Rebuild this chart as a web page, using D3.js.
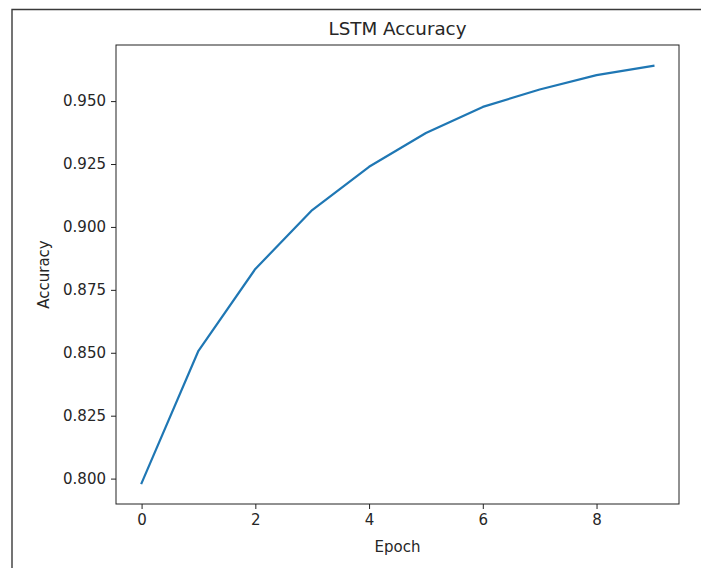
<!DOCTYPE html>
<meta charset="utf-8">
<script src="https://d3js.org/d3.v7.min.js"></script>
<style>
    body { margin: 0; background: #fff; }
    svg text { font-family: "DejaVu Sans", sans-serif; fill: #262626; }
</style>
<div id="chart"></div>
<script>
    // data
    var epochs = [0, 1, 2, 3, 4, 5, 6, 7, 8, 9];
    var accuracy = [0.7982, 0.8508, 0.8833, 0.9067, 0.9239, 0.9373, 0.9477, 0.9546, 0.9603, 0.9640];
    var xTicks = [0, 2, 4, 6, 8];
    var yTicks = [0.800, 0.825, 0.850, 0.875, 0.900, 0.925, 0.950];

    var W = 701, H = 568;
    var plot = { left: 116, top: 45, right: 679, bottom: 504 };

    var svg = d3.select("#chart").append("svg")
        .attr("width", W)
        .attr("height", H);

    // outer frame (top and left edge only show in the shot)
    svg.append("path")
        .attr("d", d3.line()([[12, H], [12, 9.5], [W, 9.5]]))
        .attr("fill", "none")
        .attr("stroke", "#3a3a3a")
        .attr("stroke-width", 1.4);

    // matplotlib style 5% margins
    var xPad = (d3.max(epochs) - d3.min(epochs)) * 0.05;
    var yPad = (d3.max(accuracy) - d3.min(accuracy)) * 0.05;

    var x = d3.scaleLinear()
        .domain([d3.min(epochs) - xPad, d3.max(epochs) + xPad])
        .range([plot.left, plot.right]);
    var y = d3.scaleLinear()
        .domain([d3.min(accuracy) - yPad, d3.max(accuracy) + yPad])
        .range([plot.bottom, plot.top]);

    var xAxis = svg.append("g")
        .attr("transform", "translate(0," + plot.bottom + ")")
        .call(d3.axisBottom(x).tickValues(xTicks).tickSize(5).tickPadding(5).tickFormat(d3.format("d")));
    var yAxis = svg.append("g")
        .attr("transform", "translate(" + plot.left + ",0)")
        .call(d3.axisLeft(y).tickValues(yTicks).tickSize(5).tickPadding(5).tickFormat(d3.format(".3f")));

    [xAxis, yAxis].forEach(function (g) {
        g.select(".domain").remove();
        g.selectAll("line").attr("stroke", "#222").attr("stroke-width", 1);
        g.selectAll("text").style("font-size", "15px").attr("fill", "#262626");
    });

    // spines
    svg.append("rect")
        .attr("x", plot.left)
        .attr("y", plot.top)
        .attr("width", plot.right - plot.left)
        .attr("height", plot.bottom - plot.top)
        .attr("fill", "none")
        .attr("stroke", "#222")
        .attr("stroke-width", 1);

    // accuracy line
    svg.append("path")
        .datum(epochs)
        .attr("fill", "none")
        .attr("stroke", "#1f77b4")
        .attr("stroke-width", 2.2)
        .attr("stroke-linejoin", "round")
        .attr("stroke-linecap", "square")
        .attr("d", d3.line()
            .x(function (d, i) { return x(d); })
            .y(function (d, i) { return y(accuracy[i]); }));

    // title and axis labels
    svg.append("text")
        .attr("x", (plot.left + plot.right) / 2)
        .attr("y", 35)
        .attr("text-anchor", "middle")
        .style("font-size", "18.3px")
        .text("LSTM Accuracy");

    svg.append("text")
        .attr("x", (plot.left + plot.right) / 2)
        .attr("y", 552)
        .attr("text-anchor", "middle")
        .style("font-size", "15px")
        .text("Epoch");

    svg.append("text")
        .attr("transform", "translate(49," + ((plot.top + plot.bottom) / 2) + ") rotate(-90)")
        .attr("text-anchor", "middle")
        .style("font-size", "15px")
        .text("Accuracy");
</script>
